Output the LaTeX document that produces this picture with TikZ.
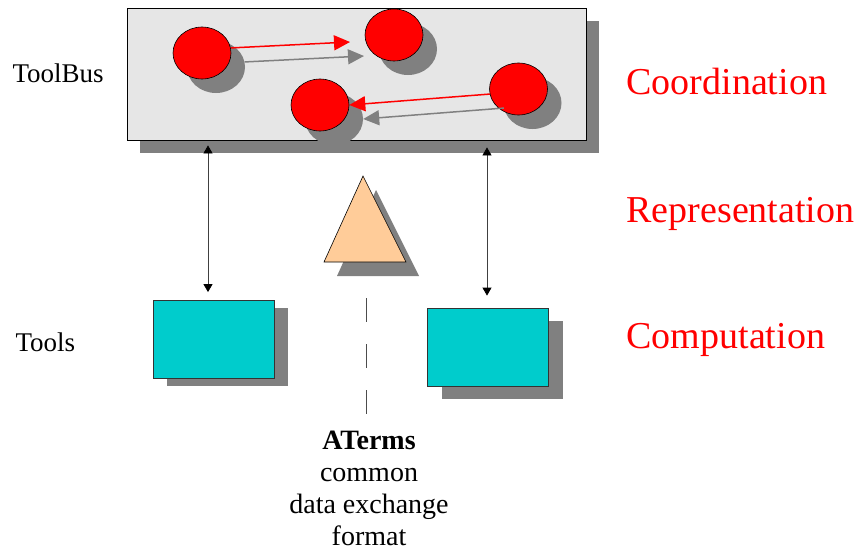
\documentclass[tikz,border=0pt]{standalone}
\usepackage{fontspec}
\setmainfont{Liberation Serif}
\usetikzlibrary{shapes.geometric,arrows.meta}
\definecolor{shadowgray}{HTML}{808080}
\definecolor{panelgray}{HTML}{E6E6E6}
\definecolor{toolcyan}{HTML}{00CCCC}
\definecolor{peach}{HTML}{FFCC99}
\definecolor{brightred}{HTML}{FF0000}
\tikzset{
  panel/.style={draw=black, line width=0.8pt, fill=panelgray, minimum width=459pt, minimum height=132pt, inner sep=0pt},
  panelshadow/.style={fill=shadowgray, minimum width=459pt, minimum height=132pt, inner sep=0pt},
  proc/.style={ellipse, draw=black, line width=0.6pt, fill=brightred, minimum width=58pt, minimum height=52pt, inner sep=0pt},
  procshadow/.style={ellipse, fill=shadowgray, minimum width=58pt, minimum height=52pt, inner sep=0pt},
  tool/.style={draw=black!80, line width=0.8pt, fill=toolcyan, minimum width=121pt, minimum height=78pt, inner sep=0pt},
  toolshadow/.style={fill=shadowgray, minimum width=121pt, minimum height=78pt, inner sep=0pt},
  msg/.style={brightred, line width=1.5pt, -{Triangle[length=16pt,width=15pt]}},
  msgshadow/.style={shadowgray, line width=1.5pt, -{Triangle[length=16pt,width=15pt]}},
  link/.style={black!75, line width=0.8pt, {Triangle[length=8pt,width=9pt,black]}-{Triangle[length=8pt,width=9pt,black]}},
  lefttext/.style={anchor=base west, font=\fontsize{27}{30}\selectfont},
  layertext/.style={anchor=base west, text=brightred, font=\fontsize{38}{40}\selectfont},
}
\begin{document}
\begin{tikzpicture}[x=1pt,y=-1pt]
\useasboundingbox (0,0) rectangle (858,552);
% ToolBus panel
\node[panelshadow] (tbs) at (369.5,87) {};
\node[panel] (tb) at (356.5,74) {};
% process shadows
\node[procshadow] (s1) at (216,67) {};
\node[procshadow] (s2) at (408,49) {};
\node[procshadow] (s3) at (334,119) {};
\node[procshadow] (s4) at (532.5,103) {};
% processes
\node[proc] (c1) at (202,53) {};
\node[proc] (c2) at (394,35) {};
\node[proc] (c3) at (320,105) {};
\node[proc] (c4) at (518.5,89) {};
% message arrows
\coordinate (m1) at (350,42);
\coordinate (m1s) at (364,56);
\draw[msgshadow] (s1.10) -- (m1s);
\draw[msgshadow] (s4.190) -- (s3.east);
\draw[msg] (c1.10) -- (m1);
\draw[msg] (c4.190) -- (c3.east);
% tools
\node[toolshadow] (lts) at (227.5,346.5) {};
\node[tool] (lt) at (213.5,339.5) {};
\node[toolshadow] (rts) at (502,360) {};
\node[tool] (rt) at (488,347) {};
% vertical links
\draw[link, shorten <=8pt, shorten >=5pt] ([xshift=-5.5pt]lt.north) -- ([xshift=-5.5pt]lt.north |- tb.south);
\draw[link, shorten <=12pt, shorten >=7pt] ([xshift=-1pt]rt.north) -- ([xshift=-1pt]rt.north |- tb.south);
% ATerm triangle
\fill[shadowgray] (376,190) -- (337,276) -- (419,276) -- cycle;
\filldraw[fill=peach, draw=black, line width=0.6pt] (363,176) coordinate (ta) -- (324,262) coordinate (tl) -- (406,262) coordinate (tr) -- cycle;
% dashed separator
\coordinate (d1) at (366,298);
\coordinate (d2) at (366,415);
\draw[black!70, line width=1pt, dash pattern=on 24pt off 22pt] (d1) -- (d2);
% labels
\node[lefttext] (ltb) at (9,82) {ToolBus};
\node[lefttext] (ltools) at (12,351) {Tools};
\node[layertext] (lco) at (623,94) {Coordination};
\node[layertext] (lre) at (623,222) {Representation};
\node[layertext] (lcm) at (623,348) {Computation};
\node[anchor=base, align=center, font=\fontsize{28}{32}\selectfont] (aterms) at (369,545) {\textbf{ATerms}\\common\\data exchange\\format};
\end{tikzpicture}
\end{document}
